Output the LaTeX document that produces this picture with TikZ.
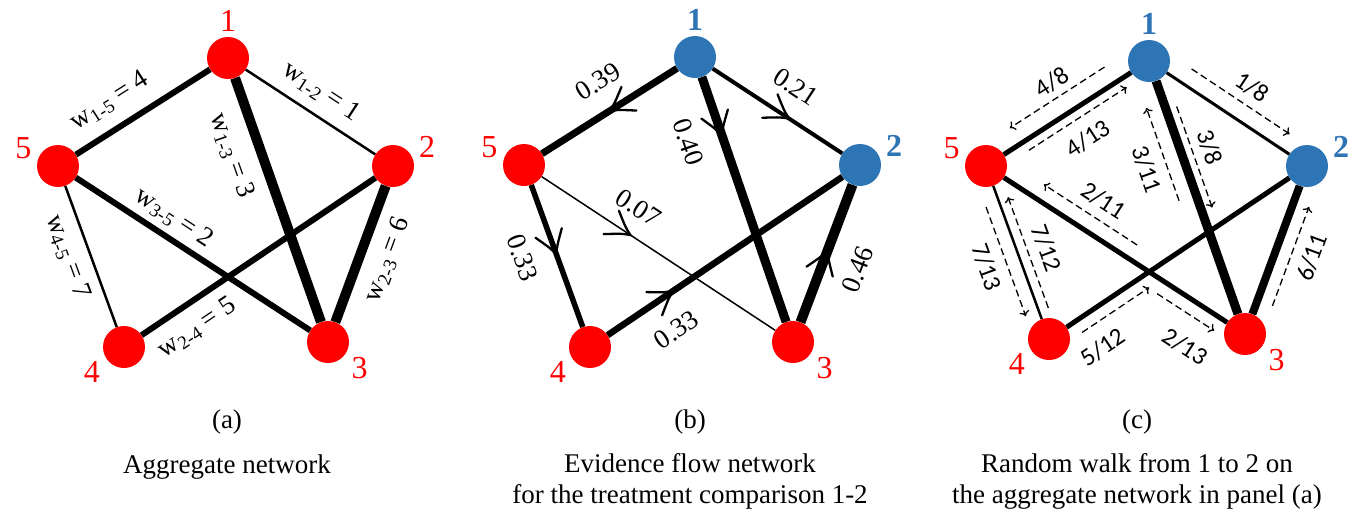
\documentclass[tikz,border=0pt]{standalone}
\usepackage{fontspec}
\setmainfont{Liberation Serif}
\newfontfamily\walkfont{Carlito}
\usetikzlibrary{arrows.meta,calc,decorations.markings}
\definecolor{TrtRed}{rgb}{1,0,0}
\definecolor{TrtBlue}{RGB}{46,117,182}

\tikzset{
  trt/.style={circle,fill=TrtRed,minimum size=42pt,inner sep=0pt},
  trtb/.style={trt,fill=TrtBlue},
  num/.style={text=TrtRed,font=\fontsize{32}{32}\selectfont},
  numb/.style={text=TrtBlue,font=\fontsize{32}{32}\selectfont\bfseries},
  lab/.style={font=\fontsize{27}{27}\selectfont,sloped,inner sep=0pt},
  wlab/.style={lab,font=\fontsize{25}{25}\selectfont\walkfont},
  walk/.style={line width=1.3pt,dash pattern=on 7pt off 4pt,-{To[length=5pt,width=10pt]}},
  flow/.style={postaction={decorate,decoration={markings,
    mark=at position #1 with {\draw[line width=2.3pt,line cap=round]
      (-23pt,14pt) .. controls (-8pt,3.5pt) .. (0pt,0pt) .. controls (-8pt,-3.5pt) .. (-23pt,-14pt);}}}},
  captext/.style={font=\fontsize{27}{31}\selectfont,align=center}
}

% label along an edge: from, to, position, offset, text
\newcommand\elab[5]{%
  \path ($(#1)!#4!90:(#2)$) -- ($(#2)!#4!-90:(#1)$) node[lab,pos=#3] {#5};}
% dashed walk step beside an edge
\newcommand\walk[8]{%
  \coordinate (ws) at ($(#1)!#5!90:(#2)$);
  \coordinate (we) at ($(#2)!#5!-90:(#1)$);
  \coordinate (w#1#2a) at ($(ws)!#3!(we)$);
  \coordinate (w#1#2b) at ($(ws)!#4!(we)$);
  \draw[walk] (w#1#2a) -- (w#1#2b);
  \path ($(#1)!#7!90:(#2)$) -- ($(#2)!#7!-90:(#1)$) node[wlab,pos=#6] {#8};}

\begin{document}
\begin{tikzpicture}[x=1pt,y=-1pt,label distance=2pt]
\useasboundingbox (0,0) rectangle (1368,512);

% (a)
\node[trt,label={[num]90:1}]  (a1) at (228,58) {};
\node[trt,label={[num]12:2}]  (a2) at (393,166) {};
\node[trt,label={[num]330:3}] (a3) at (328,342) {};
\node[trt,label={[num]207:4}] (a4) at (124,347) {};
\node[trt,label={[num]172:5}] (a5) at (58,166) {};

\draw[line width=6pt]   (a5) -- (a1);
\draw[line width=2.5pt] (a1) -- (a2);
\draw[line width=10pt]  (a1) -- (a3);
\draw[line width=10pt]  (a3) -- (a2);
\draw[line width=6pt]   (a4) -- (a2);
\draw[line width=6pt]   (a5) -- (a3);
\draw[line width=2.5pt] (a5) -- (a4);

\elab{a5}{a1}{0.39}{27pt}{w\textsubscript{1-5} = 4}
\elab{a1}{a2}{0.49}{23pt}{w\textsubscript{1-2} = 1}
\elab{a1}{a3}{0.31}{-29pt}{w\textsubscript{1-3} = 3}
\elab{a5}{a3}{0.39}{20pt}{w\textsubscript{3-5} = 2}
\elab{a5}{a4}{0.46}{-22pt}{w\textsubscript{4-5} = 7}
\elab{a4}{a2}{0.22}{-25pt}{w\textsubscript{2-4} = 5}
\elab{a3}{a2}{0.52}{-27pt}{w\textsubscript{2-3} = 6}

% (b)
\node[trtb,label={[numb]90:1}] (b1) at (695,57) {};
\node[trtb,label={[numb]12:2}] (b2) at (860,165) {};
\node[trt,label={[num]330:3}]  (b3) at (793,342) {};
\node[trt,label={[num]207:4}]  (b4) at (590,347) {};
\node[trt,label={[num]172:5}]  (b5) at (524,165) {};

\draw[line width=7pt,flow=0.5]     (b1) -- (b5);
\draw[line width=4pt,flow=0.59]    (b1) -- (b2);
\draw[line width=9pt,flow=0.24]    (b1) -- (b3);
\draw[line width=5.5pt,flow=0.49]  (b5) -- (b4);
\draw[line width=1.5pt,flow=0.38]  (b5) -- (b3);
\draw[line width=6.5pt,flow=0.28]  (b4) -- (b2);
\draw[line width=10pt,flow=0.525]  (b3) -- (b2);

\elab{b1}{b5}{0.47}{-31pt}{0.39}
\elab{b1}{b2}{0.51}{30pt}{0.21}
\elab{b1}{b3}{0.26}{-34pt}{0.40}
\elab{b5}{b4}{0.45}{-33pt}{0.33}
\elab{b5}{b3}{0.37}{27pt}{0.07}
\elab{b4}{b2}{0.25}{-34pt}{0.33}
\elab{b3}{b2}{0.48}{-35pt}{0.46}

% (c)
\node[trtb,label={[numb]90:1}] (c1) at (1149,61) {};
\node[trtb,label={[numb]12:2}] (c2) at (1307,166) {};
\node[trt,label={[num]330:3}]  (c3) at (1245,334) {};
\node[trt,label={[num]207:4}]  (c4) at (1049,339) {};
\node[trt,label={[num]172:5}]  (c5) at (986,166) {};

\draw[line width=5pt]   (c1) -- (c5);
\draw[line width=3pt]   (c1) -- (c2);
\draw[line width=9pt]   (c1) -- (c3);
\draw[line width=8pt]   (c3) -- (c2);
\draw[line width=5pt]   (c4) -- (c2);
\draw[line width=5pt]   (c5) -- (c3);
\draw[line width=2.5pt] (c5) -- (c4);

\walk{c1}{c5}{0.21}{0.79}{-19pt}{0.48}{-35pt}{4/8}
\walk{c5}{c1}{0.23}{0.83}{-10pt}{0.52}{-32pt}{4/13}
\walk{c1}{c2}{0.21}{0.83}{17pt}{0.53}{35pt}{1/8}
\walk{c1}{c3}{0.18}{0.55}{11pt}{0.35}{29pt}{3/8}
\walk{c3}{c1}{0.51}{0.85}{18pt}{0.65}{38pt}{3/11}
\walk{c3}{c5}{0.45}{0.81}{-16pt}{0.62}{-35pt}{2/11}
\walk{c5}{c4}{0.21}{0.84}{-14pt}{0.52}{-34pt}{7/13}
\walk{c4}{c5}{0.16}{0.80}{-10pt}{0.47}{-29pt}{7/12}
\walk{c4}{c2}{0.10}{0.36}{-13pt}{0.13}{-37pt}{5/12}
\walk{c5}{c3}{0.69}{0.91}{-14pt}{0.86}{-43pt}{2/13}
\walk{c3}{c2}{0.20}{0.79}{-16pt}{0.53}{-36pt}{6/11}

% captions
\node[captext] (capa) at (227,422) {(a)};
\node[captext] (txta) at (227,467) {Aggregate network};
\node[captext] (capb) at (690,422) {(b)};
\node[captext] (txtb) at (690,481) {Evidence flow network\\for the treatment comparison 1-2};
\node[captext] (capc) at (1137,422) {(c)};
\node[captext] (txtc) at (1137,481) {Random walk from 1 to 2 on\\the aggregate network in panel (a)};
\end{tikzpicture}
\end{document}
